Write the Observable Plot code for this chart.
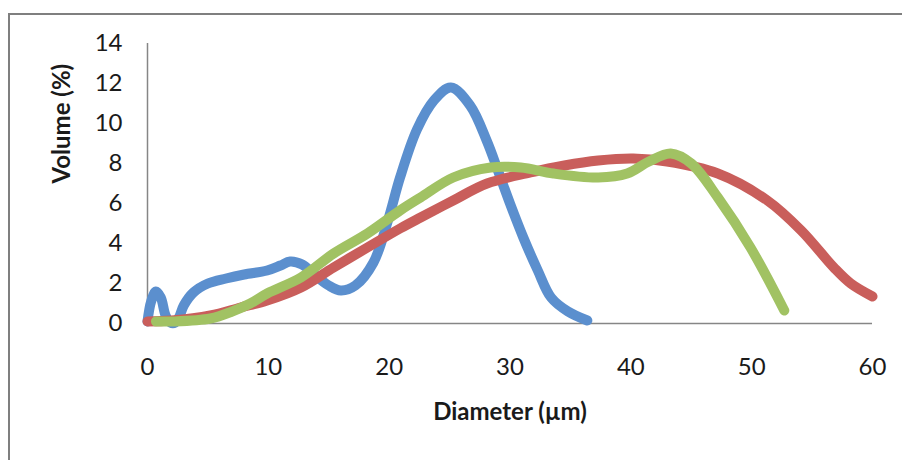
<!DOCTYPE html>
<html><head><meta charset="utf-8">
<script src="https://cdn.jsdelivr.net/npm/d3@7"></script>
<script src="https://cdn.jsdelivr.net/npm/@observablehq/plot@0.6"></script>
<style>
html,body{margin:0;padding:0;background:#fff}
#wrap{position:relative;width:902px;height:460px;overflow:hidden}
#frame{position:absolute;left:8px;top:13px;right:-4px;bottom:-4px;border-left:2px solid #7f7f7f;border-top:2px solid #7f7f7f;pointer-events:none}
</style>
</head><body>
<div id="wrap"><div id="chart"></div><div id="frame"></div></div>
<script>
// Series
const seriesNames = ["Series 1", "Series 2", "Series 3"];
const seriesColors = ["#5b8fce", "#c95e5b", "#a1c263"];

const blueX = [0, 0.3, 0.7, 1.1, 1.5, 1.9, 2.3, 2.6, 3, 3.8, 5, 6.5, 8, 9.9, 11, 11.8, 12.8, 13.7, 15, 16, 17.2, 18.7, 19.9, 20.9, 22.3, 23.7, 25.1, 26.7, 28.1, 29, 30, 31.1, 32.3, 33.4, 34.8, 36.4];
const blueY = [0.1, 1.1, 1.6, 1.3, 0.4, 0.05, 0.05, 0.3, 0.9, 1.55, 2.0, 2.25, 2.45, 2.65, 2.9, 3.1, 2.95, 2.5, 1.9, 1.65, 1.9, 3.05, 5.15, 7.3, 9.7, 11.15, 11.8, 10.9, 9.1, 7.65, 6.0, 4.3, 2.65, 1.3, 0.6, 0.15];

const redX = [0, 2, 5.2, 7.7, 9.9, 12.7, 15.4, 18.2, 20.9, 22.6, 25.3, 28.1, 31.7, 34.5, 37.3, 40.2, 43, 47.2, 51.3, 54.1, 56.8, 58.2, 60];
const redY = [0.1, 0.15, 0.4, 0.8, 1.15, 1.8, 2.8, 3.8, 4.75, 5.3, 6.15, 7.0, 7.55, 7.9, 8.15, 8.25, 8.1, 7.5, 6.15, 4.65, 2.8, 2.0, 1.35];

const greenX = [0.7, 2, 5.2, 7, 8.5, 9.9, 12.7, 15.4, 18.2, 20.9, 22.6, 25.3, 28.4, 30.9, 33.6, 37.3, 39.7, 41.5, 43.3, 45, 47.2, 49.9, 52.7];
const greenY = [0.1, 0.1, 0.25, 0.6, 1.0, 1.5, 2.3, 3.5, 4.5, 5.65, 6.3, 7.3, 7.8, 7.8, 7.5, 7.3, 7.5, 8.1, 8.5, 8.0, 6.3, 3.8, 0.65];

const xTicks = [0, 10, 20, 30, 40, 50, 60];
const yTicks = [0, 2, 4, 6, 8, 10, 12, 14];
const xTitle = "Diameter (µm)";
const yTitle = "Volume (%)";

const seriesData = [[blueX, blueY], [redX, redY], [greenX, greenY]];
const rows = seriesData.flatMap(([xs, ys], k) => xs.map((x, i) => ({series: seriesNames[k], x, y: ys[i]})));

const chart = Plot.plot({
  width: 902,
  height: 460,
  marginLeft: 147,
  marginRight: 30,
  marginTop: 43,
  marginBottom: 137,
  style: {fontFamily: "Lato, 'Open Sans', sans-serif", fontSize: "24px", color: "#1a1a1a", background: "transparent", overflow: "visible"},
  x: {domain: [0, 60], ticks: xTicks, tickSize: 0, tickPadding: 34, label: null},
  y: {domain: [0, 14], ticks: yTicks, tickSize: 0, tickPadding: 25, label: null},
  color: {domain: seriesNames, range: seriesColors},
  marks: [
    Plot.ruleX([0], {stroke: "#868686", strokeWidth: 1.5}),
    Plot.ruleY([0], {stroke: "#868686", strokeWidth: 1.5}),
    Plot.line(rows, {x: "x", y: "y", z: "series", stroke: "series", strokeWidth: 10, curve: "catmull-rom", strokeLinecap: "round", strokeLinejoin: "round"}),
    Plot.text([yTitle], {frameAnchor: "left", dx: -85, rotate: -90, fontWeight: "bold", fontSize: 24, fill: "#1a1a1a"}),
    Plot.text([xTitle], {frameAnchor: "bottom", dy: 96, fontWeight: "bold", fontSize: 24, fill: "#1a1a1a"})
  ]
});
document.getElementById("chart").appendChild(chart);
</script>
</body></html>
